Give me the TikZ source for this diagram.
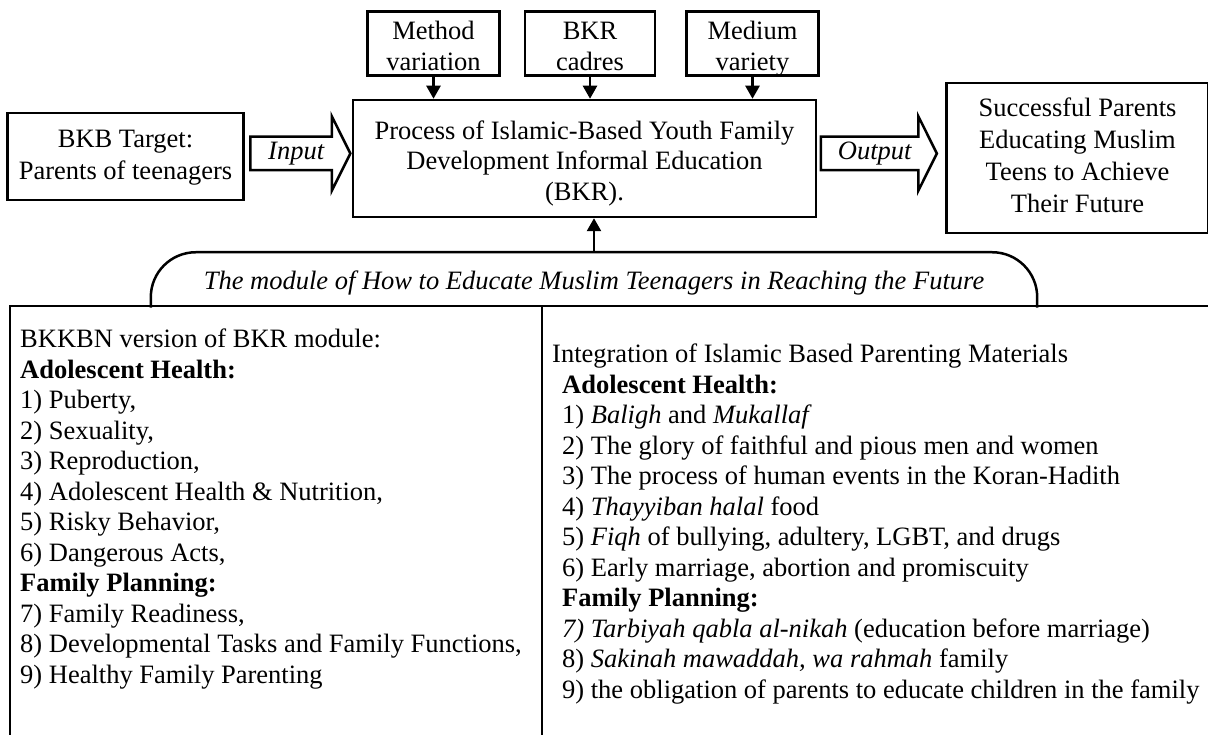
\documentclass[tikz,border=0pt]{standalone}
\usepackage{fontspec}
\setmainfont{Liberation Serif}
\usepackage{tikz}
\usetikzlibrary{shapes.arrows, arrows.meta, positioning}
\newcommand{\bodyfont}{\fontsize{26.5}{31.5}\selectfont}
\newcommand{\listfont}{\fontsize{26.5}{30.5}\selectfont}
\newcommand{\ind}{\hspace*{10pt}}
\tikzstyle{box} = [rectangle, draw=black, line width=2.5pt, align=flush center, inner sep=0pt, text height=20pt, font=\bodyfont]
\tikzstyle{smallbox} = [box, minimum width=132pt, minimum height=64pt, text width=128pt, text depth=28pt]
\tikzstyle{bigarrow} = [single arrow, draw=black, line width=2.5pt, font=\itshape\bodyfont, text height=17.5pt, text depth=5.5pt, inner ysep=4pt, inner xsep=0pt, minimum width=72pt, single arrow head extend=20.5pt, single arrow tip angle=127, single arrow head indent=0pt]
\tikzstyle{tabbox} = [rectangle, minimum width=886pt, minimum height=55pt, inner sep=0pt, text height=37pt, text depth=18pt, font=\itshape\bodyfont]
\tikzstyle{listtext} = [anchor=north west, inner sep=0pt, align=left, font=\listfont]
\tikzstyle{arrow} = [line width=2.5pt, -{Triangle[width=14pt, length=13pt]}]
\tikzstyle{frame} = [line width=2.5pt]

\begin{document}
\begin{tikzpicture}[x=1pt, y=1pt]
\useasboundingbox (0,0) rectangle (1208,735);

% Process
\node (process) [box, minimum width=463pt, minimum height=117pt, text width=460pt, text depth=58.4pt, font=\listfont] at (584.5,576.5) {Process of Islamic-Based Youth Family\\Development Informal Education\\(BKR).};

% Supporting components
\node (cadres) [smallbox, minimum width=130pt, above=22pt of process, xshift=5.5pt] {BKR\\cadres};
\node (method) [smallbox, left=23pt of cadres] {Method\\variation};
\node (medium) [smallbox, right=29pt of cadres] {Medium\\variety};

\draw [arrow] (method.south) -- (method.south |- process.north);
\draw [arrow] (cadres.south) -- (cadres.south |- process.north);
\draw [arrow] (medium.south) -- (medium.south |- process.north);

% Input
\node (target) [box, minimum width=236pt, minimum height=87pt, text width=232pt, text depth=37pt, left=107pt of process, yshift=2pt] {BKB Target:\\Parents of teenagers};
\node (input) [bigarrow, minimum height=100pt, anchor=tip] at ([yshift=5pt]process.west) {Input};

% Output
\node (outcome) [box, minimum width=262pt, minimum height=150pt, text width=258pt, text depth=102pt, font=\fontsize{26.5}{32}\selectfont, right=128pt of process, yshift=0.5pt] {Successful Parents\\Educating Muslim\\Teens to Achieve\\Their Future};
\node (output) [bigarrow, minimum height=116pt, anchor=tip] at ([xshift=-7pt, yshift=4.5pt]outcome.west) {Output};

% Module
\node (module) [tabbox, below=34pt of process, xshift=9.5pt] {The module of How to Educate Muslim Teenagers in Reaching the Future};
\draw [frame, rounded corners=45pt] (module.south west) -- (module.north west) -- (module.north east) -- (module.south east);
\draw [arrow] (module.north) -- (module.north |- process.south);

\draw [frame] (10,0) |- (1208,429);
\draw [frame] (542,429) -- (542,0);

\node (bkkbn) [listtext] at (20,406) {
    BKKBN version of BKR module:\\
    \textbf{Adolescent Health:}\\
    1) Puberty,\\
    2) Sexuality,\\
    3) Reproduction,\\
    4) Adolescent Health \& Nutrition,\\
    5) Risky Behavior,\\
    6) Dangerous Acts,\\
    \textbf{Family Planning:}\\
    7) Family Readiness,\\
    8) Developmental Tasks and Family Functions,\\
    9) Healthy Family Parenting
};
\node (islamic) [listtext] at (552,391) {
    Integration of Islamic Based Parenting Materials\\
    \ind\textbf{Adolescent Health:}\\
    \ind 1) \textit{Baligh} and \textit{Mukallaf}\\
    \ind 2) The glory of faithful and pious men and women\\
    \ind 3) The process of human events in the Koran-Hadith\\
    \ind 4) \textit{Thayyiban halal} food\\
    \ind 5) \textit{Fiqh} of bullying, adultery, LGBT, and drugs\\
    \ind 6) Early marriage, abortion and promiscuity\\
    \ind\textbf{Family Planning:}\\
    \ind\textit{7) Tarbiyah qabla al-nikah} (education before marriage)\\
    \ind 8) \textit{Sakinah mawaddah, wa rahmah} family\\
    \ind 9) the obligation of parents to educate children in the family
};

\end{tikzpicture}
\end{document}
